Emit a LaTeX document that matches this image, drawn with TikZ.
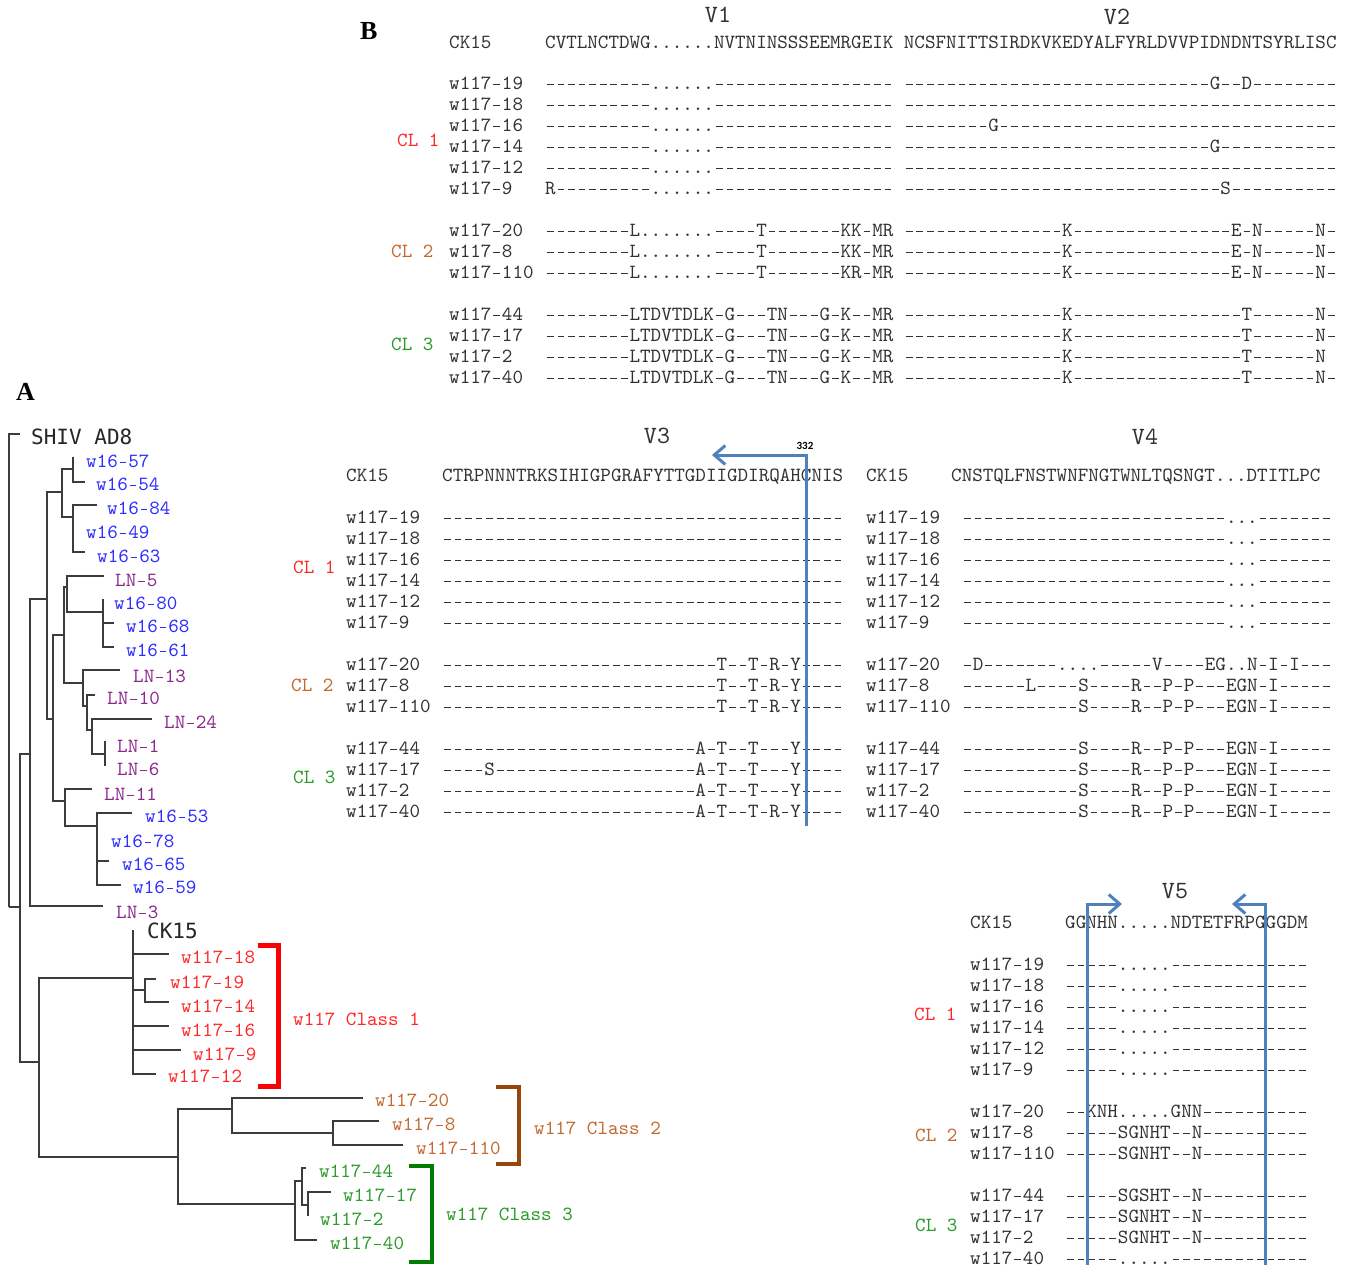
\documentclass[tikz,border=0pt]{standalone}
\usepackage{fontspec}
\setmonofont{lmmono10-regular.otf}
\newfontfamily\smonofam{DejaVu Sans Mono}
\newfontfamily\carlitofam{Carlito}
\newfontfamily\boldserfam{Liberation Serif}
\usetikzlibrary{arrows.meta}
\newcommand\hy{\makebox[0.525em][c]{\rule[0.235em]{0.33em}{0.06em}}}
\ExplSyntaxOn
\cs_new:Npn \myrep #1#2 { \prg_replicate:nn {#1} {#2} }
\cs_new_protected:Npn \fixhy #1 {
  \tl_set:Nx \l_tmpa_tl {#1}
  \regex_replace_all:nnN { \- } { \c{hy} } \l_tmpa_tl
  \tl_use:N \l_tmpa_tl
}
\ExplSyntaxOff
\newcommand\sqfont{\ttfamily\fontsize{20.1}{22}\selectfont}
\newcommand\vastd{\myrep{10}{-}......\myrep{17}{-}}
\definecolor{seqc}{RGB}{50,50,50}
\definecolor{treec}{RGB}{60,60,60}
\definecolor{cs}{RGB}{45,45,255}
\definecolor{cln}{RGB}{140,40,140}
\definecolor{cone}{RGB}{255,40,40}
\definecolor{ctwo}{RGB}{195,105,45}
\definecolor{cthree}{RGB}{40,155,40}
\definecolor{bone}{RGB}{250,0,0}
\definecolor{btwo}{RGB}{150,70,10}
\definecolor{bthree}{RGB}{0,125,0}
\definecolor{arrowblue}{RGB}{79,129,189}
\begin{document}
\begin{tikzpicture}[x=1pt,y=-1pt,
  txt/.style={font=\sqfont, anchor=base west, inner sep=0pt, text=seqc},
  hdr/.style={font=\ttfamily\fontsize{24.8}{26}\selectfont, anchor=base, inner sep=0pt, text=seqc},
  panel/.style={font=\boldserfam\bfseries\fontsize{26}{28}\selectfont, anchor=base west, inner sep=0pt, text=black},
  big/.style={font=\smonofam\fontsize{21}{24}\selectfont, anchor=base west, inner sep=0pt, text=black!85},
  branch/.style={draw=treec, line width=1.4pt},
  bracket/.style={line width=5pt, line join=miter},
  blueline/.style={draw=arrowblue, line width=3pt, line join=miter, -{Straight Barb[length=11pt,width=19pt]}}]
\fill[white] (0,0) rectangle (1357,1268);
\useasboundingbox (0,0) rectangle (1357,1268);

% ---------------- Panel B : V1 / V2 ----------------
\node[panel] (labB) at (360,40) {B};
\node[hdr] (vone) at (718,22.5) {V1};
\node[hdr] (vtwo) at (1117,24.5) {V2};
\node[txt] (ckA) at (449,48.5) {CK15};
\node[txt] (hA1) at (545,48.5) {CVTLNCTDWG......NVTNINSSSEEMRGEIK};
\node[txt] (hA2) at (903.7,48.5) {NCSFNITTSIRDKVKEDYALFYRLDVVPIDNDNTSYRLISC};
\foreach \nm/\sa/\sb/\yy [count=\i] in {
  w117-19/{\vastd}/{\myrep{29}{-}G--D\myrep{8}{-}}/84,
  w117-18/{\vastd}/{\myrep{41}{-}}/105,
  w117-16/{\vastd}/{\myrep{8}{-}G\myrep{32}{-}}/126,
  w117-14/{\vastd}/{\myrep{29}{-}G\myrep{11}{-}}/147,
  w117-12/{\vastd}/{\myrep{41}{-}}/168,
  w117-9/{R\myrep{9}{-}......\myrep{17}{-}}/{\myrep{30}{-}S\myrep{10}{-}}/189,
  w117-20/{\myrep{8}{-}L.......----T\myrep{7}{-}KK-MR}/{\myrep{15}{-}K\myrep{15}{-}E-N-----N-}/231,
  w117-8/{\myrep{8}{-}L.......----T\myrep{7}{-}KK-MR}/{\myrep{15}{-}K\myrep{15}{-}E-N-----N-}/252,
  w117-110/{\myrep{8}{-}L.......----T\myrep{7}{-}KR-MR}/{\myrep{15}{-}K\myrep{15}{-}E-N-----N-}/273,
  w117-44/{\myrep{8}{-}LTDVTDLK-G---TN---G-K--MR}/{\myrep{15}{-}K\myrep{16}{-}T------N-}/315,
  w117-17/{\myrep{8}{-}LTDVTDLK-G---TN---G-K--MR}/{\myrep{15}{-}K\myrep{16}{-}T------N-}/336,
  w117-2/{\myrep{8}{-}LTDVTDLK-G---TN---G-K--MR}/{\myrep{15}{-}K\myrep{16}{-}T------N}/357,
  w117-40/{\myrep{8}{-}LTDVTDLK-G---TN---G-K--MR}/{\myrep{15}{-}K\myrep{16}{-}T------N-}/378}{
  \node[txt] (nA\i) at (449,\yy+5.5) {\fixhy{\nm}};
  \node[txt] (sA\i) at (545,\yy+5.5) {\fixhy{\sa}};
  \node[txt] (tA\i) at (903.7,\yy+5.5) {\fixhy{\sb}};
}
\node[txt,text=cone] (clA1) at (397,146.5) {CL 1};
\node[txt,text=ctwo] (clA2) at (391,257.5) {CL 2};
\node[txt,text=cthree] (clA3) at (391,350.5) {CL 3};

% ---------------- V3 / V4 ----------------
\node[hdr] (vthree) at (657,443.5) {V3};
\node[hdr] (vfour) at (1145,444.5) {V4};
\node[txt] (ckB) at (346,481.5) {CK15};
\node[txt] (hB) at (442,481.5) {CTRPNNNTRKSIHIGPGRAFYTTGDIIGDIRQAHCNIS};
\node[txt] (ckC) at (866,481.5) {CK15};
\node[txt] (hC) at (951,481.5) {CNSTQLFNSTWNFNGTWNLTQSNGT...DTITLPC};
\foreach \nm/\sa/\sb/\yy [count=\i] in {
  w117-19/{\myrep{38}{-}}/{\myrep{25}{-}...\myrep{7}{-}}/518,
  w117-18/{\myrep{38}{-}}/{\myrep{25}{-}...\myrep{7}{-}}/539,
  w117-16/{\myrep{38}{-}}/{\myrep{25}{-}...\myrep{7}{-}}/560,
  w117-14/{\myrep{38}{-}}/{\myrep{25}{-}...\myrep{7}{-}}/581,
  w117-12/{\myrep{38}{-}}/{\myrep{25}{-}...\myrep{7}{-}}/602,
  w117-9/{\myrep{38}{-}}/{\myrep{25}{-}...\myrep{7}{-}}/623,
  w117-20/{\myrep{26}{-}T--T-R-Y----}/{-D-------....-----V----EG..N-I-I---}/665,
  w117-8/{\myrep{26}{-}T--T-R-Y----}/{------L----S----R--P-P---EGN-I-----}/686,
  w117-110/{\myrep{26}{-}T--T-R-Y----}/{\myrep{11}{-}S----R--P-P---EGN-I-----}/707,
  w117-44/{\myrep{24}{-}A-T--T---Y----}/{\myrep{11}{-}S----R--P-P---EGN-I-----}/749,
  w117-17/{----S\myrep{19}{-}A-T--T---Y----}/{\myrep{11}{-}S----R--P-P---EGN-I-----}/770,
  w117-2/{\myrep{24}{-}A-T--T---Y----}/{\myrep{11}{-}S----R--P-P---EGN-I-----}/791,
  w117-40/{\myrep{24}{-}A-T--T-R-Y----}/{\myrep{11}{-}S----R--P-P---EGN-I-----}/812}{
  \node[txt] (nB\i) at (346,\yy+5.5) {\fixhy{\nm}};
  \node[txt] (sB\i) at (442,\yy+5.5) {\fixhy{\sa}};
  \node[txt] (nC\i) at (866,\yy+5.5) {\fixhy{\nm}};
  \node[txt] (sC\i) at (962,\yy+5.5) {\fixhy{\sb}};
}
\node[txt,text=cone] (clB1) at (293,573.5) {CL 1};
\node[txt,text=ctwo] (clB2) at (291,691.5) {CL 2};
\node[txt,text=cthree] (clB3) at (293,783.5) {CL 3};
\coordinate (vthreeB) at (806,826);
\coordinate (vthreeT) at (806,455);
\coordinate (vthreeA) at (712,455);
\draw[blueline] (vthreeB) -- (vthreeT) -- (vthreeA);
\node[font=\carlitofam\bfseries\fontsize{11}{12}\selectfont, inner sep=0pt] (labthree) at (805,446) {332};

% ---------------- V5 ----------------
\node[hdr] (vfive) at (1175,898.5) {V5};
\node[txt] (ckD) at (970,928.5) {CK15};
\node[txt] (hD) at (1065,928.5) {GGNHN.....NDTETFRPGGGDM};
\foreach \nm/\sa/\yy [count=\i] in {
  w117-19/{-----.....\myrep{13}{-}}/965,
  w117-18/{-----.....\myrep{13}{-}}/986,
  w117-16/{-----.....\myrep{13}{-}}/1007,
  w117-14/{-----.....\myrep{13}{-}}/1028,
  w117-12/{-----.....\myrep{13}{-}}/1049,
  w117-9/{-----.....\myrep{13}{-}}/1070,
  w117-20/{--KNH.....GNN\myrep{10}{-}}/1112,
  w117-8/{-----SGNHT--N\myrep{10}{-}}/1133,
  w117-110/{-----SGNHT--N\myrep{10}{-}}/1154,
  w117-44/{-----SGSHT--N\myrep{10}{-}}/1196,
  w117-17/{-----SGNHT--N\myrep{10}{-}}/1217,
  w117-2/{-----SGNHT--N\myrep{10}{-}}/1238,
  w117-40/{-----.....\myrep{13}{-}}/1259}{
  \node[txt] (nD\i) at (970,\yy+5.5) {\fixhy{\nm}};
  \node[txt] (sD\i) at (1065,\yy+5.5) {\fixhy{\sa}};
}
\node[txt,text=cone] (clD1) at (914,1020.5) {CL 1};
\node[txt,text=ctwo] (clD2) at (915,1141.5) {CL 2};
\node[txt,text=cthree] (clD3) at (915,1231.5) {CL 3};
\coordinate (vfiveLB) at (1087,1265);
\coordinate (vfiveLT) at (1087,904);
\coordinate (vfiveLA) at (1122,904);
\coordinate (vfiveRB) at (1265,1265);
\coordinate (vfiveRT) at (1265,904);
\coordinate (vfiveRA) at (1232,904);
\draw[blueline] (vfiveLB) -- (vfiveLT) -- (vfiveLA);
\draw[blueline] (vfiveRB) -- (vfiveRT) -- (vfiveRA);

% ---------------- Panel A : tree ----------------
\node[panel] (labA) at (16,400) {A};
\foreach \c/\xx/\yy in {R/9/907, N1/20/907, N2/30/754, N3/47/599, N4/62/492, N6/73/469, N7/73/517,
  N5/53/719, N8/64/635, N13/67/587, N11/103/612, N12/83/683, N14/87/706, N15/92/730, N16/105/754,
  N9/65/801, N10/97/826, N17/39/1062, N18/133/978, N20/145/990, N19/178/1157, N21/232/1109,
  N22/333/1133, N23/295/1204, N24/302/1181, N25/308/1205,
  tSHIV/20/434, ta/73/457, tb/85/482, tc/97/505, td/73/528, te/85/552,
  tLNf/104/576, tg/103/599, th/114/623, ti/114/647, tLNj/120/670, tLNk/95/695, tLNl/152/719,
  tLNm/105/741, tLNn/105/766, tLNo/92/789, tp/132/813, tq/97/838, tr/109/861, ts/121/885,
  tLNt/103/906, tCK/133/930, tw18/169/954, tw19/156/979, tw14/169/1002, tw16/169/1026,
  tw9/181/1050, tw12/156/1074, tw20/363/1098, tw8/379/1121, tw110/403/1145,
  tw44/306/1168, tw17/331/1192, tw2/308/1216, tw40/317/1240}{
  \coordinate (\c) at (\xx,\yy);
}
\foreach \p/\c in {R/tSHIV, R/N1, N1/N2, N1/N17, N2/N3, N2/tLNt, N3/N4, N3/N5, N4/N6, N4/N7,
  N6/ta, N6/tb, N7/tc, N7/td, N7/te, N5/N8, N5/N9, N8/N13, N8/N12, N13/tLNf, N13/N11,
  N11/tg, N11/th, N11/ti, N12/tLNj, N12/N14, N14/tLNk, N14/N15, N15/tLNl, N15/N16,
  N16/tLNm, N16/tLNn, N9/tLNo, N9/N10, N10/tp, N10/tq, N10/tr, N10/ts,
  N17/N18, N17/N19, N18/tCK, N18/tw18, N18/N20, N18/tw16, N18/tw9, N18/tw12, N20/tw19, N20/tw14,
  N19/N21, N19/N23, N21/tw20, N21/N22, N22/tw8, N22/tw110, N23/N24, N23/tw40, N24/tw44, N24/N25,
  N25/tw17, N25/tw2}{
  \draw[branch] (\p) |- (\c);
}
\node[big] (lSHIV) at (31,444) {SHIV AD8};
\node[big] (lCK) at (147,938) {CK15};
\foreach \nm/\xx/\yy/\cc [count=\i] in {
  w16-57/86/462/cs, w16-54/96/485/cs, w16-84/107/509/cs, w16-49/86/533/cs, w16-63/97/557/cs,
  LN-5/115/581/cln, w16-80/114/604/cs, w16-68/126/627/cs, w16-61/126/651/cs,
  LN-13/133/677/cln, LN-10/107/699/cln, LN-24/164/723/cln, LN-1/117/747/cln, LN-6/117/770/cln,
  LN-11/104/795/cln, w16-53/145/817/cs, w16-78/111/842/cs, w16-65/122/865/cs, w16-59/133/888/cs,
  LN-3/116/913/cln,
  w117-18/181/958/cone, w117-19/170/983/cone, w117-14/181/1007/cone, w117-16/181/1031/cone,
  w117-9/193/1055/cone, w117-12/168/1077/cone,
  w117-20/375/1101/ctwo, w117-8/392/1125/ctwo, w117-110/416/1149/ctwo,
  w117-44/319/1172/cthree, w117-17/343/1196/cthree, w117-2/320/1220/cthree, w117-40/330/1244/cthree}{
  \node[txt,text=\cc] (lf\i) at (\xx,\yy+5.5) {\fixhy{\nm}};
}
% brackets
\coordinate (rbA) at (258,945); \coordinate (rbB) at (278,945);
\coordinate (rbC) at (278,1086); \coordinate (rbD) at (258,1086);
\draw[bracket,draw=bone] (rbA) -- (rbB) -- (rbC) -- (rbD);
\coordinate (obA) at (496,1087); \coordinate (obB) at (519,1087);
\coordinate (obC) at (519,1164); \coordinate (obD) at (496,1164);
\draw[bracket,draw=btwo,line width=4pt] (obA) -- (obB) -- (obC) -- (obD);
\coordinate (gbA) at (409,1166); \coordinate (gbB) at (432,1166);
\coordinate (gbC) at (432,1262); \coordinate (gbD) at (409,1262);
\draw[bracket,draw=bthree,line width=4.5pt] (gbA) -- (gbB) -- (gbC) -- (gbD);
\node[txt,text=cone] (classone) at (293,1025.5) {w117 Class 1};
\node[txt,text=ctwo] (classtwo) at (534,1134.5) {w117 Class 2};
\node[txt,text=cthree] (classthree) at (446,1220.5) {w117 Class 3};
\end{tikzpicture}
\end{document}
